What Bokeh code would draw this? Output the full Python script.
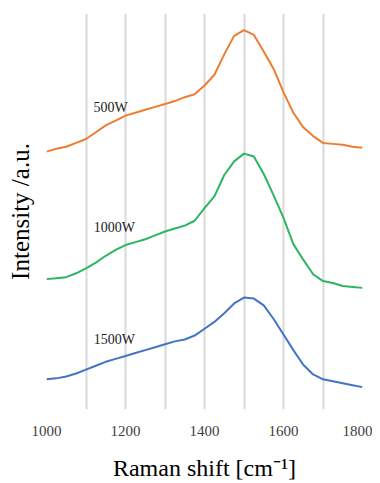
from bokeh.plotting import figure
from bokeh.models import Range1d, FixedTicker, Label
from bokeh.embed import file_html
from bokeh.resources import INLINE

shift = [1000, 1025, 1050, 1075, 1100, 1125, 1150, 1175, 1200, 1225, 1250, 1275,
         1300, 1325, 1350, 1375, 1400, 1425, 1450, 1475, 1500, 1525, 1550, 1575,
         1600, 1625, 1650, 1675, 1700, 1725, 1750, 1775, 1800]

i500 = [265, 268, 270, 274, 278, 285, 292, 297, 302, 305, 308, 311,
        314, 317, 321, 324, 333, 344, 365, 384, 390, 385, 368, 350,
        326, 305, 290, 281, 274, 273, 272, 270, 269]
i1000 = [134, 135, 136, 140, 145, 151, 158, 164, 169, 172, 175, 179,
         183, 186, 189, 194, 207, 219, 241, 255, 263, 260, 242, 220,
         197, 170, 154, 139, 132, 130, 127, 126, 125]
i1500 = [31, 32, 34, 37, 41, 45, 49, 52, 55, 58, 61, 64,
         67, 70, 72, 76, 83, 90, 99, 109, 115, 114, 107, 93,
         77, 61, 46, 36, 31, 29, 27, 25, 23]

series_names = ["500W", "1000W", "1500W"]
series_colors = ["#ED7D31", "#2DB563", "#4472C4"]
label_pos = [(1162, 310), (1172, 187), (1172, 72)]

x_ticks = [1000, 1200, 1400, 1600, 1800]
grid_ticks = [1000, 1100, 1200, 1300, 1400, 1500, 1600, 1700, 1800]

SERIF = "Liberation Serif"

p = figure(width=372, height=483, output_backend="svg", toolbar_location=None,
           x_range=Range1d(1000, 1800), y_range=Range1d(0, 407),
           min_border_left=46, min_border_right=10, min_border_top=13, min_border_bottom=63)
p.outline_line_color = None
p.background_fill_color = "white"

for ys, c in zip([i500, i1000, i1500], series_colors):
    p.line(shift, ys, line_color=c, line_width=2, line_join="round")

for name, (lx, ly) in zip(series_names, label_pos):
    p.add_layout(Label(x=lx, y=ly, text=name, text_font=SERIF,
                       text_font_size="14px", text_color="#222222",
                       text_align="center", text_baseline="middle"))

p.xaxis.ticker = FixedTicker(ticks=x_ticks)
p.xgrid.ticker = FixedTicker(ticks=grid_ticks)
p.xgrid.grid_line_color = "#D9D9D9"
p.xgrid.grid_line_width = 2
p.ygrid.grid_line_color = None

p.xaxis.axis_line_color = None
p.xaxis.major_tick_line_color = None
p.xaxis.minor_tick_line_color = None
p.xaxis.major_label_text_font = SERIF
p.xaxis.major_label_text_font_size = "15px"
p.xaxis.major_label_text_color = "#404040"
p.xaxis.major_label_standoff = 10
p.xaxis.axis_label = "Raman shift [cm⁻¹]"
p.xaxis.axis_label_text_font = SERIF
p.xaxis.axis_label_text_font_size = "24px"
p.xaxis.axis_label_text_font_style = "normal"
p.xaxis.axis_label_text_color = "black"
p.xaxis.axis_label_standoff = 16

p.yaxis.ticker = FixedTicker(ticks=[])
p.yaxis.axis_line_color = None
p.yaxis.major_tick_line_color = None
p.yaxis.minor_tick_line_color = None
p.yaxis.axis_label = "Intensity /a.u."
p.yaxis.axis_label_text_font = SERIF
p.yaxis.axis_label_text_font_size = "25px"
p.yaxis.axis_label_text_font_style = "normal"
p.yaxis.axis_label_text_color = "black"
p.yaxis.axis_label_standoff = 13

open("out.html", "w").write(file_html(p, INLINE))
